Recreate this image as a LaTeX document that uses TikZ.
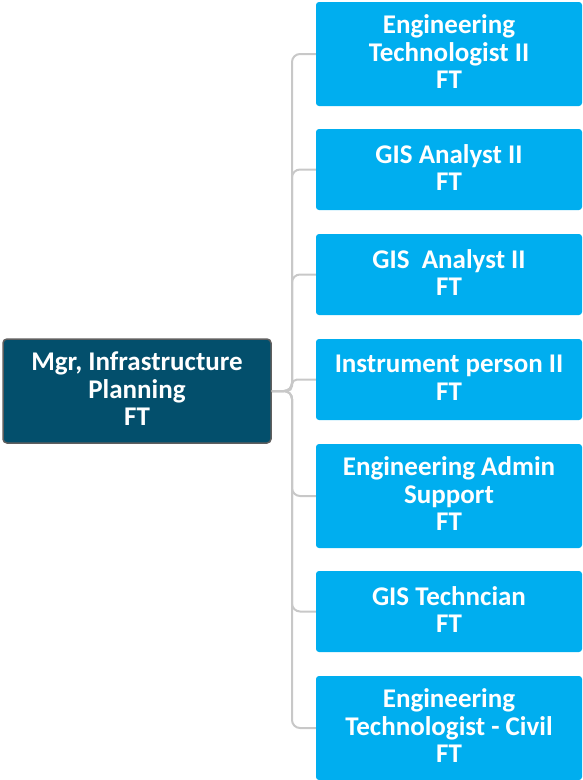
\documentclass[tikz,border=0pt]{standalone}
\usepackage{fontspec}
\setmainfont{Carlito}
\definecolor{parentfill}{RGB}{3,79,108}
\definecolor{parentdraw}{RGB}{95,95,95}
\definecolor{childfill}{RGB}{0,174,239}
\definecolor{linkgray}{RGB}{200,200,200}
\begin{document}
\begin{tikzpicture}[x=1pt,y=-1pt,
  txt/.style={text=white,align=center,font=\bfseries\fontsize{27}{27.5}\selectfont,inner sep=0pt,
    execute at end node={\rule[-4pt]{0pt}{4pt}}},
  parentbox/.style={txt,fill=parentfill,draw=parentdraw,line width=1.5pt,rounded corners=4pt,minimum width=268pt,minimum height=104pt},
  childbox/.style={txt,fill=childfill,rounded corners=3pt,minimum width=266pt},
  link/.style={draw=linkgray,line width=2pt,rounded corners=8pt}]
\useasboundingbox (0,0) rectangle (582,780);
\node[parentbox] (p) at (137,391) {Mgr, Infrastructure\\Planning\\FT};
\node[childbox,minimum height=104pt] (c1) at (449,54) {Engineering\\Technologist II\\FT};
\node[childbox,minimum height=81pt] (c2) at (449,169.5) {GIS Analyst II\\FT};
\node[childbox,minimum height=81pt] (c3) at (449,274.5) {GIS\ \ Analyst II\\FT};
\node[childbox,minimum height=81pt] (c4) at (449,379.5) {Instrument person II\\FT};
\node[childbox,minimum height=104pt] (c5) at (449,496) {Engineering Admin\\Support\\FT};
\node[childbox,minimum height=81pt] (c6) at (449,611.5) {GIS Techncian\\FT};
\node[childbox,minimum height=104pt] (c7) at (449,728) {Engineering\\Technologist - Civil\\FT};
\coordinate (j) at (292,391);
\foreach \c in {c1,c2,c3,c5,c6,c7}{
  \path[link] (p.east) -- (j) |- (\c.west);
}
\path[link,rounded corners=5pt] (p.east) -- (j) |- (c4.west);
\end{tikzpicture}
\end{document}
